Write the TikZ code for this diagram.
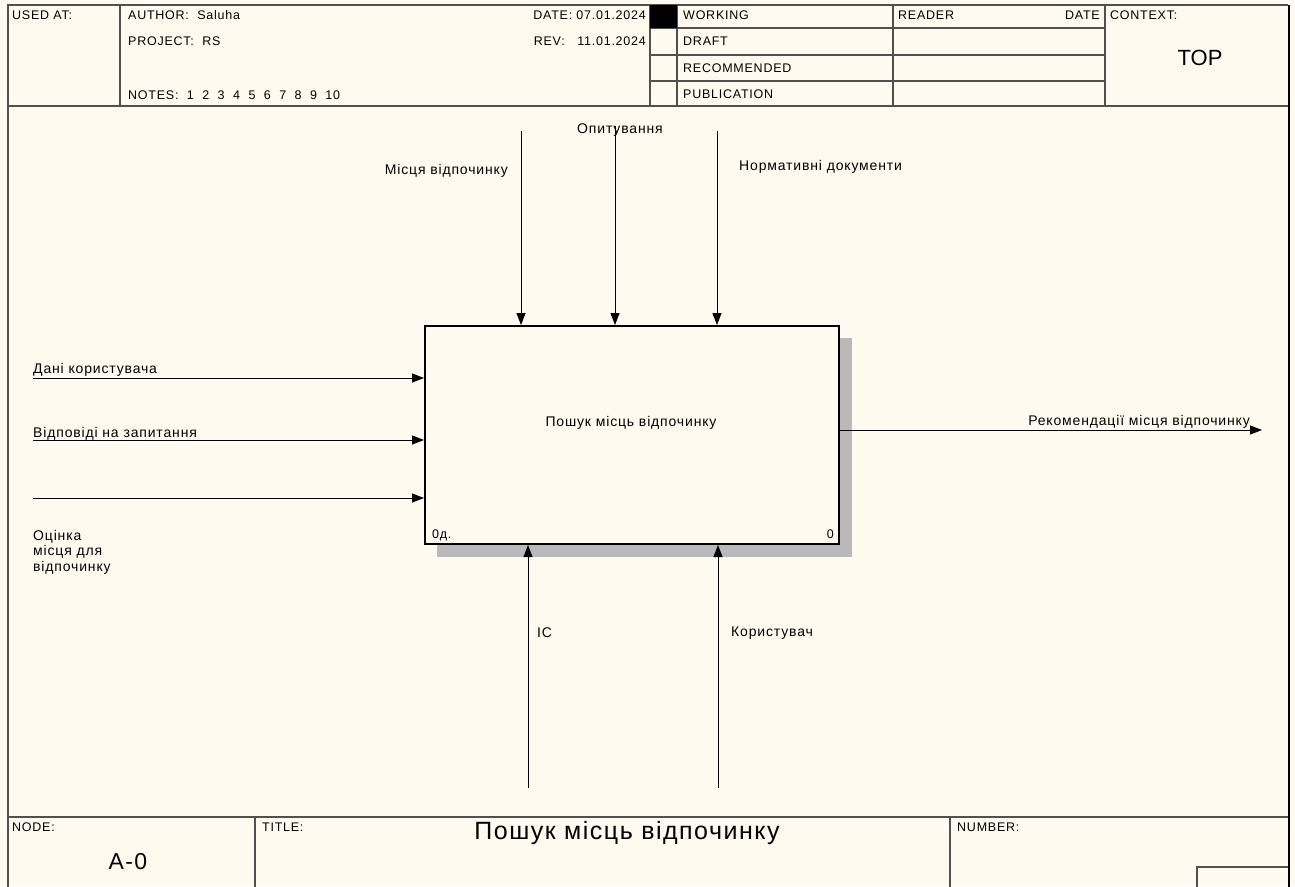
\documentclass[tikz,border=0pt]{standalone}
\usepackage{fontspec}
\setmainfont{Liberation Sans}
\newfontfamily\lblfont[LetterSpace=6]{Liberation Sans}
\newfontfamily\bigfont[LetterSpace=6]{Liberation Sans}
\usetikzlibrary{arrows.meta}
\definecolor{bg}{HTML}{FFFAF0}
\definecolor{frame}{HTML}{505050}
\tikzset{
  lbl/.style={inner sep=0pt, font=\lblfont\fontsize{14}{16}\selectfont},
  sml/.style={inner sep=0pt, font=\lblfont\fontsize{12.5}{15}\selectfont},
  big/.style={inner sep=0pt, font=\bigfont\fontsize{23}{26}\selectfont},
  fr/.style={draw=frame, line width=1.2pt},
  arr/.style={draw=black, line width=1pt, -{Triangle[length=12pt,width=9pt]}},
}
\begin{document}
\begin{tikzpicture}[x=1pt,y=-1pt]
\useasboundingbox (0,0) rectangle (1295,886);
\fill[bg] (0,0) rectangle (1295,886);
% frame
\draw[fr, line width=1.6pt] (8,890) -- (8,5) -- (1288,5);
\draw[black, line width=2.5pt] (1289,5) -- (1289,890);
\draw[fr] (8,106) -- (1288,106);
\draw[fr] (8,817) -- (1288,817);
% header
\draw[fr] (120,5) -- (120,106);
\draw[fr] (650,5) -- (650,106);
\draw[fr] (677,5) -- (677,106);
\draw[fr] (893,5) -- (893,106);
\draw[fr] (1105,5) -- (1105,106);
\foreach \yy in {28,55,81} \draw[fr] (650,\yy) -- (1105,\yy);
\fill[black] (650,5) rectangle (677,28);
\node[sml, anchor=base west] (usedat) at (12,19) {USED AT:};
\node[sml, anchor=base west] (author) at (128,19) {AUTHOR:\ \ Saluha};
\node[sml, anchor=base west] (project) at (128,45) {PROJECT:\ \ RS};
\node[sml, anchor=base west] (notes) at (128,99) {NOTES:\ \ 1\ \ 2\ \ 3\ \ 4\ \ 5\ \ 6\ \ 7\ \ 8\ \ 9\ \ 10};
\node[sml, anchor=base east] (date) at (646,19) {DATE:\ 07.01.2024};
\node[sml, anchor=base east] (rev) at (646,45) {REV:\ \ \ 11.01.2024};
\node[sml, anchor=base west] (working) at (683,19) {WORKING};
\node[sml, anchor=base west] (draft) at (683,45) {DRAFT};
\node[sml, anchor=base west] (recom) at (683,72) {RECOMMENDED};
\node[sml, anchor=base west] (publ) at (683,98) {PUBLICATION};
\node[sml, anchor=base west] (reader) at (898,19) {READER};
\node[sml, anchor=base east] (rdate) at (1100,19) {DATE};
\node[sml, anchor=base west] (context) at (1110,19) {CONTEXT:};
\node[big, font=\fontsize{22}{26}\selectfont] (top) at (1200,58) {TOP};
% footer
\draw[fr] (255,817) -- (255,890);
\draw[fr] (950,817) -- (950,890);
\draw[fr] (1197,890) -- (1197,867) -- (1288,867);
\node[sml, anchor=base west] (nodelbl) at (12,831) {NODE:};
\node[sml, anchor=base west] (titlelbl) at (262,831) {TITLE:};
\node[sml, anchor=base west] (numlbl) at (957,831) {NUMBER:};
\node[big] (a0) at (128,862) {A-0};
\node[big, font=\bigfont\fontsize{25}{28}\selectfont] (title) at (627,833) {Пошук місць відпочинку};
% shadow
\fill[gray!55] (839,338) rectangle (852,557);
\fill[gray!55] (437,544) rectangle (852,557);
% main box
\node[draw=black, line width=2pt, fill=bg, minimum width=414pt, minimum height=218pt, inner sep=0pt] (box) at (632,435) {};
\node[lbl] (boxlbl) at (631,423) {Пошук місць відпочинку};
\node[sml, anchor=base west] (cost) at (432,538) {0д.};
\node[sml, anchor=base east] (num) at (834,538) {0};
% controls
\coordinate (c1) at (521,131);
\coordinate (c2) at (615,126);
\coordinate (c3) at (717,131);
\draw[arr] (c1) -- (c1 |- box.north);
\draw[arr] (c2) -- (c2 |- box.north);
\draw[arr] (c3) -- (c3 |- box.north);
\node[lbl, anchor=base east] (l1) at (508,174) {Місця відпочинку};
\node[lbl, anchor=base] (l2) at (620,133) {Опитування};
\node[lbl, anchor=base west] (l3) at (739,170) {Нормативні документи};
% inputs
\coordinate (i1) at (33,378);
\coordinate (i2) at (33,440);
\coordinate (i3) at (33,498);
\draw[arr] (i1) -- (i1 -| box.west);
\draw[arr] (i2) -- (i2 -| box.west);
\draw[arr] (i3) -- (i3 -| box.west);
\node[lbl, anchor=base west] (li1) at (33,373) {Дані користувача};
\node[lbl, anchor=base west] (li2) at (33,437) {Відповіді на запитання};
\node[lbl, anchor=north west, align=left, font=\lblfont\fontsize{14}{15.5}\selectfont] (li3) at (33,530) {Оцінка\\місця для\\відпочинку};
% output
\coordinate (o1) at (1262,430);
\draw[arr] (o1 -| box.east) -- (o1);
\node[lbl, anchor=base east] (lo1) at (1250,425) {Рекомендації місця відпочинку};
% mechanisms
\coordinate (m1) at (528,788);
\coordinate (m2) at (718,788);
\draw[arr] (m1) -- (m1 |- box.south);
\draw[arr] (m2) -- (m2 |- box.south);
\node[lbl, anchor=base west] (lm1) at (537,637) {IC};
\node[lbl, anchor=base west] (lm2) at (731,636) {Користувач};
\end{tikzpicture}
\end{document}
